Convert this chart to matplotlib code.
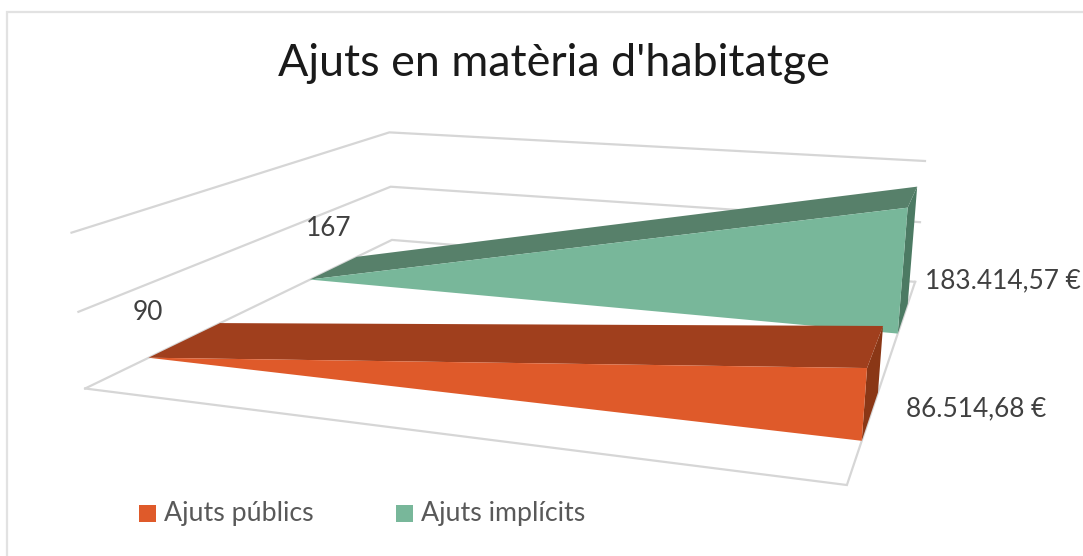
import matplotlib
matplotlib.use("Agg")
import matplotlib.pyplot as plt
import numpy as np
from matplotlib.patches import Polygon, Rectangle

# Data
title = "Ajuts en matèria d'habitatge"
series_names = ["Ajuts públics", "Ajuts implícits"]
start_values = [90, 167]
end_values = [86514.68, 183414.57]
gridlines = [0, 100000, 200000]
value_max = 200000

# Style
fill_colors = ["#DF5A2A", "#78B79A"]
top_colors = ["#A03F1D", "#57806A"]
side_colors = ["#8A3716", "#4C7A63"]
depth_ranges = [(0.15, 0.347), (0.65, 0.84)]
grid_color = "#D6D6D6"
font = "Lato"

# Camera: wall corners as seen on screen (x, depth, value fraction) -> pixel
corners = [
    ((0, 0, 1), (72, 233)), ((0, 0, 0.5), (78, 312)), ((0, 0, 0), (85, 388)),
    ((0, 1, 1), (389, 132)), ((0, 1, 0.5), (391, 187)), ((0, 1, 0), (392, 240)),
    ((1, 1, 1), (925, 161)), ((1, 1, 0.5), (920, 222)), ((1, 1, 0), (915, 282)),
    ((1, 0, 0), (847, 485)),
]


def fit_camera(points):
    """Least squares 3x4 projection matrix"""
    rows = []
    for (x, y, z), (u, v) in points:
        rows.append([x, y, z, 1, 0, 0, 0, 0, -u*x, -u*y, -u*z, -u])
        rows.append([0, 0, 0, 0, x, y, z, 1, -v*x, -v*y, -v*z, -v])
    _, _, vt = np.linalg.svd(np.array(rows, dtype=float))
    return vt[-1].reshape(3, 4)


camera = fit_camera(corners)


def project(x, depth, value):
    p = camera @ np.array([x, depth, value / value_max, 1.0])
    return p[0] / p[2], p[1] / p[2]


fig = plt.figure(figsize=(10.83, 5.56), dpi=100)
ax = fig.add_axes([0, 0, 1, 1])
ax.set_xlim(0, 1083)
ax.set_ylim(556, 0)
ax.axis("off")

# Chart border, only top and left are in frame
ax.plot([7, 7, 1083], [556, 12, 12], color="#E2E2E2", lw=1.6, solid_joinstyle="miter", zorder=0)

# Walls, under the series
for g in gridlines:
    path = [project(0, 0, g), project(0, 1, g), project(1, 1, g)]
    ax.plot(*zip(*path), color=grid_color, lw=1.6, solid_joinstyle="miter", zorder=0)
floor = [project(0, 0, 0), project(1, 0, 0), project(1, 1, 0)]
ax.plot(*zip(*floor), color=grid_color, lw=1.6, solid_joinstyle="miter", zorder=0)

# Back series first, the front one covers it
for i in [1, 0]:
    d0, d1 = depth_ranges[i]
    s, e = start_values[i], end_values[i]
    top = [project(0, d0, s), project(0, d1, s), project(1, d1, e), project(1, d0, e)]
    side = [project(1, d0, e), project(1, d1, e), project(1, d1, 0), project(1, d0, 0)]
    front = [project(0, d0, 0), project(0, d0, s), project(1, d0, e), project(1, d0, 0)]
    ax.add_patch(Polygon(side, fc=side_colors[i], ec="none"))
    ax.add_patch(Polygon(top, fc=top_colors[i], ec="none"))
    ax.add_patch(Polygon(front, fc=fill_colors[i], ec="none"))

ax.text(554, 64, title, family=font, fontsize=32.3, color="#1A1A1A", ha="center", va="center")

# Data labels
def money(v):
    return f"{v:,.2f}".replace(",", " ").replace(".", ",").replace(" ", ".") + " €"


label_pos = [(906, 409), (925, 281)]
start_pos = [(148, 313), (329, 228)]
for i in range(2):
    ax.text(*label_pos[i], money(end_values[i]), family=font, fontsize=18.9, color="#404040", va="center")
    ax.text(*start_pos[i], str(start_values[i]), family=font, fontsize=18.9, color="#404040", ha="center", va="center")

# Legend
legend_x = [139, 396]
for i in range(2):
    ax.add_patch(Rectangle((legend_x[i], 505), 17, 17, fc=fill_colors[i], ec="none"))
    ax.text(legend_x[i] + 25, 514, series_names[i], family=font, fontsize=19.3, color="#595959", va="center")

fig.savefig("out.png", dpi=100)
